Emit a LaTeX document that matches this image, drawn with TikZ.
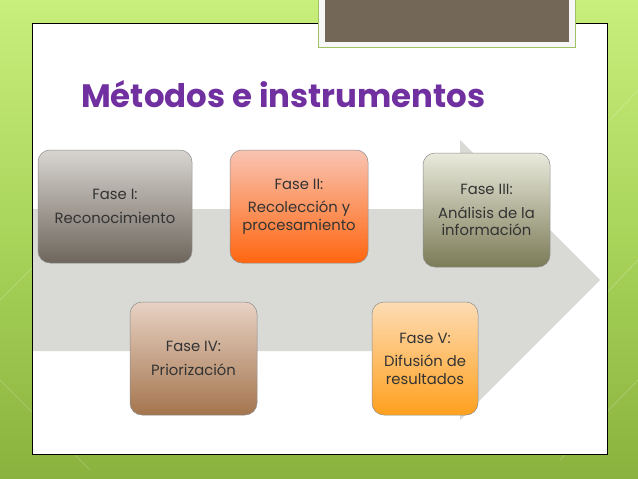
\documentclass[tikz,border=0pt]{standalone}
\usepackage{fontspec}
\setmainfont{Poppins}
\usetikzlibrary{shapes.misc}
\definecolor{bgtop}{HTML}{C8EE7C}
\definecolor{bgmid}{HTML}{A8D45A}
\definecolor{bgbot}{HTML}{89B23E}
\definecolor{titlepurple}{HTML}{7030A0}
\definecolor{arrowgrey}{HTML}{D9D9D5}
\definecolor{brownbox}{HTML}{736858}
\definecolor{txt}{HTML}{333333}
\tikzset{
  phase/.style={rounded corners=12pt, draw=black!45, line width=0.5pt,
    align=center, text=txt, inner sep=2pt,
    font=\fontsize{14.8}{17.5}\selectfont},
}
\newcommand{\pgap}{\\[6pt]}
\begin{document}
\begin{tikzpicture}[x=1pt,y=-1pt]
\useasboundingbox (0,0) rectangle (638,479);
% background
\shade[top color=bgtop, bottom color=bgbot, middle color=bgmid] (0,0) rectangle (638,479);
\foreach \a/\b/\c/\d in {0/300/60/240, 0/380/90/470, 600/300/638/260, 560/460/638/380, 610/120/638/90}
  \draw[white, opacity=0.25, line width=0.6pt] (\a,\b) -- (\c,\d);
% white panel
\node[draw=black, line width=0.8pt, fill=white, minimum width=575pt, minimum height=431pt, inner sep=0pt] (panel) at (319.5,238.5) {};
% top brown box
\node[draw=bgbot!80!white, fill=white!95!brownbox, line width=0.8pt, minimum width=257pt, minimum height=49pt, inner sep=0pt] (tab) at (446.5,22.5) {};
\node[fill=brownbox, minimum width=244pt, minimum height=44pt, inner sep=0pt] (tabin) at (447,20) {};
% title
\node[anchor=base west, inner sep=0pt, text=titlepurple, font=\fontsize{32.4}{38}\selectfont\bfseries] (title) at (81,107) {Métodos e instrumentos};
% arrow
\fill[arrowgrey] (33,209) -- (460,209) -- (460,140) -- (600,280) -- (460,420) -- (460,351) -- (33,351) -- cycle;
% phases
\node[phase, minimum width=154pt, minimum height=113pt, top color={rgb,255:red,216;green,213;blue,208}, bottom color={rgb,255:red,110;green,102;blue,92}] (f1) at (115,206.5) {Fase I:\pgap Reconocimiento};
\node[phase, minimum width=138pt, minimum height=113pt, top color={rgb,255:red,249;green,196;blue,178}, bottom color={rgb,255:red,255;green,102;blue,16}] (f2) at (299,206.5) {Fase II:\pgap Recolección y\\procesamiento};
\node[phase, minimum width=127pt, minimum height=114pt, top color={rgb,255:red,233;green,234;blue,220}, bottom color={rgb,255:red,124;green,123;blue,88}] (f3) at (486.5,210) {Fase III:\pgap Análisis de la\\información};
\node[phase, minimum width=127pt, minimum height=113pt, top color={rgb,255:red,232;green,210;blue,196}, bottom color={rgb,255:red,164;green,117;blue,78}] (f4) at (193.5,358.5) {Fase IV:\pgap Priorización};
\node[phase, minimum width=106pt, minimum height=113pt, top color={rgb,255:red,253;green,220;blue,180}, bottom color={rgb,255:red,255;green,160;blue,30}] (f5) at (425,358.5) {Fase V:\pgap Difusión de\\resultados};
\end{tikzpicture}
\end{document}
